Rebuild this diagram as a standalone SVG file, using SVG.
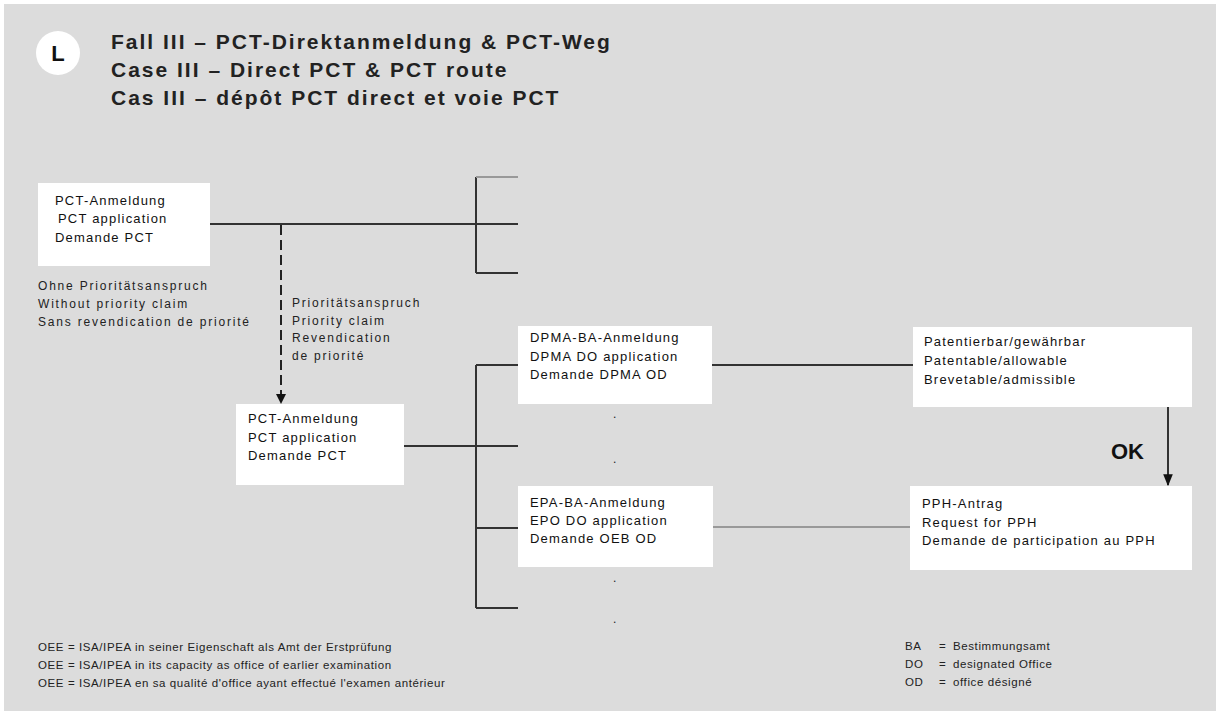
<svg xmlns="http://www.w3.org/2000/svg" width="1220" height="715" viewBox="0 0 1220 715">
<defs>
<style>
.bg{fill:#dcdcdc}
.box{fill:#ffffff;stroke:none}
.t{font-family:"Liberation Sans",Arial,sans-serif;font-size:13px;fill:#111;letter-spacing:1.2px}
.s{font-family:"Liberation Sans",Arial,sans-serif;font-size:12px;fill:#222;letter-spacing:1.8px}
.f{font-family:"Liberation Sans",Arial,sans-serif;font-size:11.5px;fill:#222;letter-spacing:0.6px}
.title{font-family:"Liberation Sans",Arial,sans-serif;font-size:21px;font-weight:bold;fill:#222;letter-spacing:2px}
.ln{stroke:#333;stroke-width:2;fill:none}
.lt{stroke:#999;stroke-width:2;fill:none}
.dash{stroke:#222;stroke-width:2;fill:none;stroke-dasharray:10,5}
</style>
<marker id="ah" viewBox="0 0 10 10" refX="9" refY="5" markerWidth="10" markerHeight="10" orient="auto" markerUnits="userSpaceOnUse">
<path d="M0,0 L10,5 L0,10 z" fill="#111"/>
</marker>
<marker id="ah2" viewBox="0 0 10 10" refX="9" refY="5" markerWidth="12" markerHeight="12" orient="auto" markerUnits="userSpaceOnUse">
<path d="M0,1 L10,5 L0,9 z" fill="#111"/>
</marker>
</defs>
<rect x="0" y="0" width="1220" height="715" fill="#ffffff"/>
<rect class="bg" x="4" y="4" width="1212" height="707"/>

<g id="header">
<circle cx="58" cy="53" r="22" fill="#ffffff"/>
<text x="58" y="61" text-anchor="middle" font-family="Liberation Sans, Arial, sans-serif" font-size="22" font-weight="bold" fill="#111">L</text>
<text class="title" x="111" y="49">Fall III – PCT-Direktanmeldung &amp; PCT-Weg</text>
<text class="title" x="111" y="77">Case III – Direct PCT &amp; PCT route</text>
<text class="title" x="111" y="105">Cas III – dépôt PCT direct et voie PCT</text>
</g>

<g id="connectors">
<line class="ln" x1="210" y1="224" x2="518" y2="224"/>
<line class="ln" x1="476" y1="177" x2="476" y2="273"/>
<line class="lt" x1="476" y1="177" x2="518" y2="177"/>
<line class="ln" x1="476" y1="273" x2="518" y2="273"/>
<line class="dash" x1="281" y1="225" x2="281" y2="403" marker-end="url(#ah)"/>
<line class="ln" x1="404" y1="446" x2="518" y2="446"/>
<line class="ln" x1="476" y1="365" x2="476" y2="608"/>
<line class="ln" x1="476" y1="365" x2="518" y2="365"/>
<line class="ln" x1="476" y1="528" x2="518" y2="528"/>
<line class="ln" x1="476" y1="608" x2="518" y2="608"/>
<line class="ln" x1="712" y1="365" x2="913" y2="365"/>
<line class="lt" x1="713" y1="527" x2="910" y2="527"/>
<line class="ln" x1="1168" y1="407" x2="1168" y2="485" marker-end="url(#ah2)"/>
<text x="1111" y="459" font-family="Liberation Sans, Arial, sans-serif" font-size="22" font-weight="bold" fill="#111">OK</text>
</g>

<g id="pct1">
<rect class="box" x="38" y="183" width="172" height="83"/>
<text class="t" x="55" y="205">PCT-Anmeldung</text>
<text class="t" x="58" y="223">PCT application</text>
<text class="t" x="55" y="242">Demande PCT</text>
</g>
<g id="nopriority">
<text class="s" x="38" y="290">Ohne Prioritätsanspruch</text>
<text class="s" x="38" y="308">Without priority claim</text>
<text class="s" x="38" y="326">Sans revendication de priorité</text>
</g>
<g id="priority">
<text class="s" x="292" y="307">Prioritätsanspruch</text>
<text class="s" x="292" y="325">Priority claim</text>
<text class="s" x="292" y="342">Revendication</text>
<text class="s" x="292" y="360">de priorité</text>
</g>
<g id="pct2">
<rect class="box" x="236" y="404" width="168" height="81"/>
<text class="t" x="248" y="423">PCT-Anmeldung</text>
<text class="t" x="248" y="442">PCT application</text>
<text class="t" x="248" y="460">Demande PCT</text>
</g>
<g id="dpma">
<rect class="box" x="518" y="326" width="194" height="78"/>
<text class="t" x="530" y="342">DPMA-BA-Anmeldung</text>
<text class="t" x="530" y="361">DPMA DO application</text>
<text class="t" x="530" y="379">Demande DPMA OD</text>
</g>
<g id="dots">
<text class="s" x="613" y="418">.</text>
<text class="s" x="613" y="463">.</text>
<text class="s" x="613" y="582">.</text>
<text class="s" x="613" y="623">.</text>
</g>
<g id="epa">
<rect class="box" x="518" y="486" width="195" height="81"/>
<text class="t" x="530" y="507">EPA-BA-Anmeldung</text>
<text class="t" x="530" y="525">EPO DO application</text>
<text class="t" x="530" y="543">Demande OEB OD</text>
</g>
<g id="allowable">
<rect class="box" x="913" y="327" width="279" height="80"/>
<text class="t" x="924" y="346">Patentierbar/gewährbar</text>
<text class="t" x="924" y="365">Patentable/allowable</text>
<text class="t" x="924" y="384">Brevetable/admissible</text>
</g>
<g id="pph">
<rect class="box" x="910" y="486" width="282" height="84"/>
<text class="t" x="922" y="508">PPH-Antrag</text>
<text class="t" x="922" y="527">Request for PPH</text>
<text class="t" x="922" y="545">Demande de participation au PPH</text>
</g>
<g id="legend-left">
<text class="f" x="38" y="651">OEE =  ISA/IPEA in seiner Eigenschaft als Amt der Erstprüfung</text>
<text class="f" x="38" y="669">OEE =  ISA/IPEA in its capacity as office of earlier examination</text>
<text class="f" x="38" y="687">OEE =  ISA/IPEA en sa qualité d'office ayant effectué l'examen antérieur</text>
</g>
<g id="legend-right">
<text class="f" x="905" y="650">BA</text><text class="f" x="939" y="650">=</text><text class="f" x="953" y="650">Bestimmungsamt</text>
<text class="f" x="905" y="668">DO</text><text class="f" x="939" y="668">=</text><text class="f" x="953" y="668">designated Office</text>
<text class="f" x="905" y="686">OD</text><text class="f" x="939" y="686">=</text><text class="f" x="953" y="686">office désigné</text>
</g>
</svg>
